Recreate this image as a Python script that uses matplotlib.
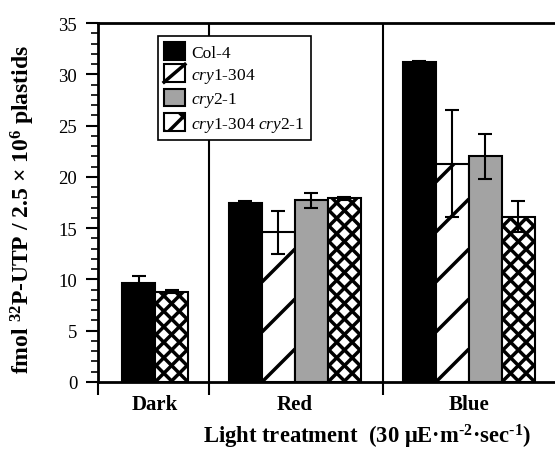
import numpy as np
import matplotlib
matplotlib.use("Agg")
import matplotlib.pyplot as plt
from matplotlib.patches import Patch, Rectangle
from matplotlib.lines import Line2D
from matplotlib.collections import LineCollection
from matplotlib.legend_handler import HandlerPatch

plt.rcParams['font.family'] = 'Liberation Serif'
plt.rcParams['mathtext.fontset'] = 'custom'
plt.rcParams['mathtext.rm'] = 'Liberation Serif:bold'
plt.rcParams['mathtext.it'] = 'Liberation Serif:italic'
plt.rcParams['mathtext.bf'] = 'Liberation Serif:bold'
plt.rcParams['hatch.linewidth'] = 2.5

# data
categories = ['Dark', 'Red', 'Blue']
series_names = ['Col-4', r'$\it{cry}$1-304', r'$\it{cry}$2-1', r'$\it{cry}$1-304 $\it{cry}$2-1']
col4 = [9.7, 17.5, 31.2]
col4_err = [0.6, 0.1, 0.1]
cry1 = [np.nan, 14.6, 21.3]
cry1_err = [np.nan, 2.1, 5.2]
cry2 = [np.nan, 17.7, 22.0]
cry2_err = [np.nan, 0.75, 2.2]
double = [8.8, 17.9, 16.1]
double_err = [0.15, 0.15, 1.5]

values = [col4, cry1, cry2, double]
errors = [col4_err, cry1_err, cry2_err, double_err]

# layout (x units = one bar width)
bar_w = 1.0
group_centers = [1.73, 5.97, 11.24]
separators = [3.36, 8.64]
x_max = 13.85

fig = plt.figure(figsize=(5.55, 4.52), dpi=100)
ax = fig.add_axes([98 / 555, 69 / 452, 457 / 555, 359 / 452])
ax.set_xlim(0, x_max)
ax.set_ylim(0, 35)

styles = [
    dict(facecolor='black', edgecolor='black'),
    dict(facecolor='white', edgecolor='black'),
    dict(facecolor='#a3a3a3', edgecolor='black'),
    dict(facecolor='white', edgecolor='black'),
]
# hatch line directions (+1 = '/', -1 = '\') and spacing in pixels
hatch_dirs = [[], [1], [], [1, -1]]
hatch_gap = [0, 50, 0, 15.5]

# pixel scale, hatch lines at 45 degrees on screen
bb = ax.get_window_extent()
px_x = bb.width / x_max
px_y = bb.height / 35
slope = px_x / px_y


def hatch_bar(rect, x0, h, dirs, gap_px):
    spacing = gap_px / px_y
    rise = bar_w * slope
    segs = []
    k0 = -int(np.ceil(rise / spacing)) - 1
    k1 = int(np.ceil((h + rise) / spacing)) + 1
    for d in dirs:
        for k in range(k0, k1):
            y0 = k * spacing
            if d > 0:
                segs.append([(x0, y0), (x0 + bar_w, y0 + rise)])
            else:
                segs.append([(x0, y0 + rise), (x0 + bar_w, y0)])
    lc = LineCollection(segs, colors='black', linewidths=2.5, zorder=2.5)
    ax.add_collection(lc)
    lc.set_clip_path(rect)


for g, center in enumerate(group_centers):
    present = [s for s in range(4) if not np.isnan(values[s][g])]
    n = len(present)
    for i, s in enumerate(present):
        x = center + (i - (n - 1) / 2) * bar_w
        v = values[s][g]
        bars = ax.bar(x, v, width=bar_w, linewidth=1.5, zorder=2, **styles[s])
        ax.errorbar(x, v, yerr=errors[s][g], fmt='none', ecolor='black',
                    elinewidth=1.5, capsize=5, capthick=1.5, zorder=3)
        if hatch_dirs[s]:
            hatch_bar(bars[0], x - bar_w / 2, v, hatch_dirs[s], hatch_gap[s])

for sx in separators:
    ax.axvline(sx, color='black', linewidth=1.5, zorder=1)

# spines and ticks
ax.spines['right'].set_visible(False)
for side in ['left', 'bottom', 'top']:
    ax.spines[side].set_linewidth(2)

ax.set_yticks(np.arange(0, 36, 5))
ax.set_yticks(np.arange(0, 36, 1), minor=True)
ax.tick_params(axis='y', which='major', direction='out', length=9, width=1.5,
               labelsize=13.5, pad=6)
ax.tick_params(axis='y', which='minor', direction='out', length=5, width=1.2)

ax.set_xticks([0] + separators)
ax.set_xticklabels([])
ax.tick_params(axis='x', which='major', direction='out', length=9, width=1.5)
ax.set_xticks(group_centers, minor=True)
ax.set_xticklabels(categories, minor=True, fontsize=15, fontweight='bold')
ax.tick_params(axis='x', which='minor', length=0, pad=9)

ax.text(-0.165, 0.482, r'fmol $^{32}$P-UTP / 2.5 × 10$^{6}$ plastids',
        transform=ax.transAxes, rotation=90, ha='center', va='center',
        fontsize=17, fontweight='bold')
ax.text(0.589, -0.150, r'Light treatment  (30 μE·m$^{\text{-2}}$·sec$^{\text{-1}}$)',
        transform=ax.transAxes, ha='center', va='center',
        fontsize=16.3, fontweight='bold')


class DiagHandler(HandlerPatch):
    def create_artists(self, legend, orig_handle, xdescent, ydescent,
                       width, height, fontsize, trans):
        r = Rectangle((-xdescent, -ydescent), width, height, facecolor='white',
                      edgecolor='black', linewidth=1.5, transform=trans)
        ln = Line2D([-xdescent, -xdescent + width], [-ydescent, -ydescent + height],
                    color='black', linewidth=2.5, transform=trans)
        return [r, ln]


handles = [Patch(linewidth=1.5, **styles[0]),
           Patch(facecolor='white', edgecolor='black'),
           Patch(linewidth=1.5, **styles[2]),
           Patch(linewidth=1.5, hatch='x', **styles[3])]
leg = ax.legend(handles, series_names, loc='upper left',
                bbox_to_anchor=((158 - 98) / 457, (383 - 37) / 359),
                borderaxespad=0, fancybox=False, edgecolor='black', framealpha=1,
                fontsize=12.5, handlelength=1.2, handleheight=1.2,
                handletextpad=0.35, labelspacing=0.2, borderpad=0.35,
                handler_map={handles[1]: DiagHandler()})
leg.get_frame().set_linewidth(1.2)
leg.set_zorder(5)

fig.savefig('out.png', dpi=100)
